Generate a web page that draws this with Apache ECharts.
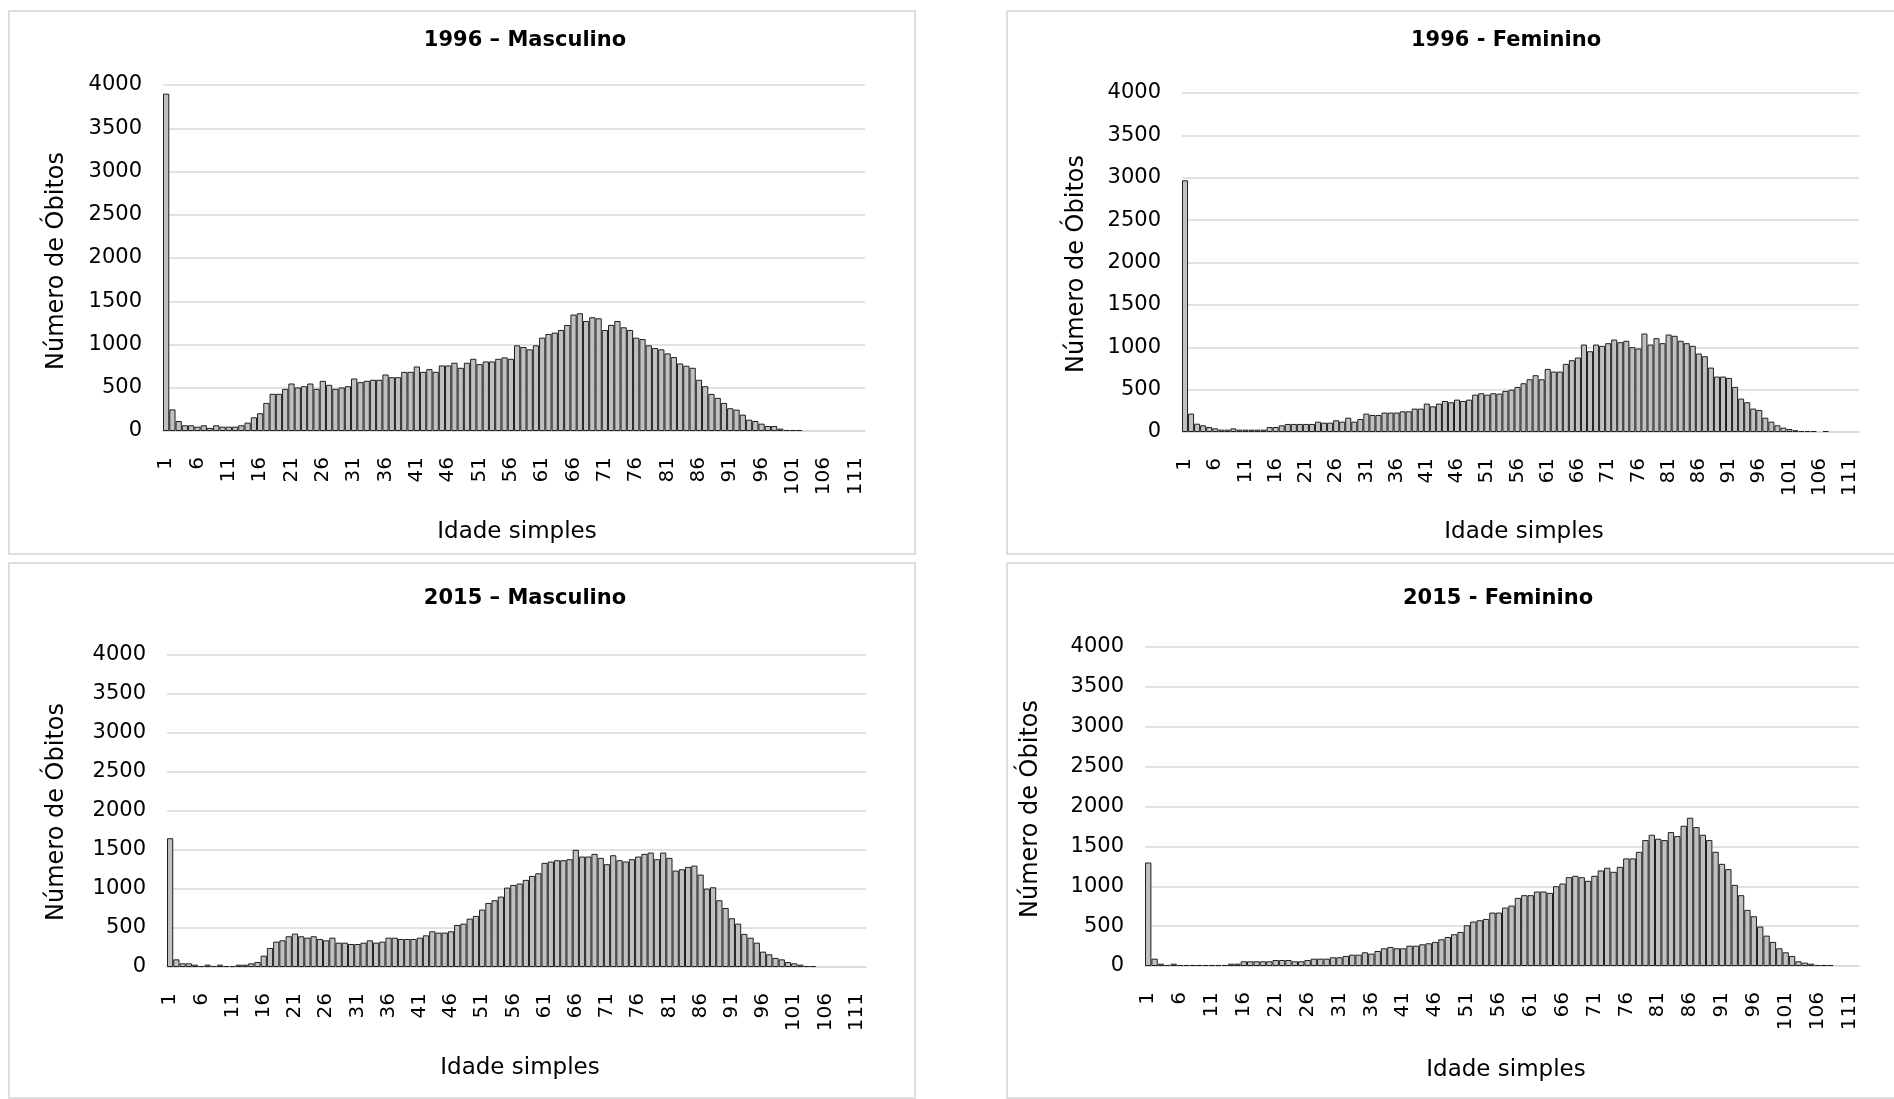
<!DOCTYPE html>
<html><head><meta charset="utf-8">
<script src="https://cdn.jsdelivr.net/npm/echarts@6/dist/echarts.min.js"></script>
<style>html,body{margin:0;padding:0;background:#fff}#c{width:1894px;height:1099px}</style>
</head><body><div id="c"></div>
<script>
// Categories: ages 1..112
const ages = ['1','2','3','4','5','6','7','8','9','10','11','12','13','14','15','16','17','18','19','20',
'21','22','23','24','25','26','27','28','29','30','31','32','33','34','35','36','37','38','39','40',
'41','42','43','44','45','46','47','48','49','50','51','52','53','54','55','56','57','58','59','60',
'61','62','63','64','65','66','67','68','69','70','71','72','73','74','75','76','77','78','79','80',
'81','82','83','84','85','86','87','88','89','90','91','92','93','94','95','96','97','98','99','100',
'101','102','103','104','105','106','107','108','109','110','111','112'];

const yTicks = [0, 500, 1000, 1500, 2000, 2500, 3000, 3500, 4000];

const titles = ['1996 \u2013 Masculino', '1996 - Feminino', '2015 \u2013 Masculino', '2015 - Feminino'];

const masc1996 = [3900,250,115,66,66,50,66,35,66,50,
 50,50,66,97,158,205,325,430,430,487,
 549,503,518,549,487,580,534,487,503,518,
 607,565,580,592,592,653,622,622,684,684,
 746,684,715,684,758,758,789,731,789,835,
 773,804,804,835,851,835,990,971,944,990,
 1079,1121,1137,1168,1226,1346,1361,1272,1315,1303,
 1168,1226,1272,1199,1168,1079,1063,990,959,944,
 897,855,781,754,731,592,518,429,383,325,
 263,247,189,131,116,85,58,58,27,12,
 12,12,0,0,0,0,0,0,0,0,
 0,0];

const fem1996 = [2970,217,98,79,59,43,28,28,43,28,
 28,28,28,28,59,59,79,95,95,95,
 95,95,122,110,110,138,122,169,122,154,
 217,201,201,229,229,229,244,244,276,276,
 335,303,335,366,351,382,366,382,441,457,
 441,457,453,485,500,532,575,622,670,622,
 745,713,713,804,847,879,1032,953,1032,1017,
 1048,1091,1060,1076,1001,985,1162,1032,1107,1048,
 1150,1135,1076,1048,1017,926,894,760,654,654,
 638,532,394,351,276,260,169,122,79,51,
 35,20,12,12,12,0,12,0,0,0,
 0,0];

const masc2015 = [1651,98,47,47,30,13,30,13,30,13,
 13,30,30,47,64,145,244,325,342,394,
 428,394,376,394,359,342,376,312,312,295,
 295,312,342,312,325,376,376,359,359,359,
 376,406,458,441,441,458,539,556,620,655,
 736,821,856,903,1018,1052,1070,1117,1168,1202,
 1335,1352,1369,1369,1382,1502,1416,1416,1450,1399,
 1318,1433,1369,1352,1382,1416,1450,1467,1382,1467,
 1399,1236,1253,1283,1300,1185,1005,1022,856,757,
 625,556,424,376,312,197,163,116,98,64,
 47,30,13,13,0,0,0,0,0,0,
 0,0];

const fem2015 = [1298,92,29,13,29,13,13,13,13,13,
 13,13,13,29,29,59,59,59,59,59,
 75,75,75,59,59,75,92,92,92,109,
 109,126,142,142,172,155,188,222,239,222,
 222,255,255,272,285,302,335,364,398,427,
 511,557,574,590,670,670,733,758,854,888,
 888,934,934,917,1001,1034,1114,1131,1114,1068,
 1131,1198,1231,1181,1244,1349,1349,1432,1579,1646,
 1596,1579,1679,1629,1759,1859,1742,1646,1579,1432,
 1281,1215,1018,888,704,624,494,381,302,222,
 172,126,59,42,29,13,13,13,0,0,
 0,0];

const seriesData = [masc1996, fem1996, masc2015, fem2015];

// Layout (pixels)
const panels = [
  {box:[9,11,906,543],   grid:{left:163,top:85,width:702,height:346}, title:[525,41],  yName:[57,261],  xName:[517,532]},
  {box:[1007,11,900,543],grid:{left:1182,top:93,width:677,height:339}, title:[1506,41], yName:[1077,264],xName:[1524,532]},
  {box:[9,563,906,535],  grid:{left:167,top:655,width:699,height:312}, title:[525,599], yName:[57,812],  xName:[520,1068]},
  {box:[1007,563,900,535],grid:{left:1145,top:647,width:714,height:319},title:[1498,599],yName:[1031,809],xName:[1506,1070]}
];

const FONT = '"DejaVu Sans", Verdana, sans-serif';
const grids = [], xAxes = [], yAxes = [], series = [], graphic = [];
panels.forEach((p, i) => {
  grids.push(Object.assign({containLabel:false}, p.grid));
  xAxes.push({
    type:'category', gridIndex:i, data:ages, boundaryGap:true,
    axisLine:{show:true, lineStyle:{color:'#d9d9d9', width:1.5}},
    axisTick:{show:false},
    axisLabel:{interval:4, rotate:90, margin:26, color:'#000', fontSize:20, fontFamily:FONT},
    splitLine:{show:false}
  });
  yAxes.push({
    type:'value', gridIndex:i, min:yTicks[0], max:yTicks[yTicks.length-1], interval:500,
    axisLine:{show:false}, axisTick:{show:false},
    axisLabel:{margin:21, color:'#000', fontSize:21, fontFamily:FONT, formatter: v => String(v)},
    splitLine:{show:true, lineStyle:{color:'#d9d9d9', width:1.5}}
  });
  series.push({
    type:'bar', xAxisIndex:i, yAxisIndex:i,
    data: seriesData[i].map(v => v === 0 ? '-' : v),
    barCategoryGap:'0%',
    itemStyle:{color:'#c0c0c0', borderColor:'#1f1f1f', borderWidth:1},
    silent:true, animation:false
  });
  graphic.push({type:'rect', shape:{x:p.box[0], y:p.box[1], width:p.box[2], height:p.box[3]},
    style:{fill:'none', stroke:'#d4d4d4', lineWidth:1.5}, silent:true, z:-1});
  graphic.push({type:'text', x:p.title[0], y:p.title[1],
    style:{text:titles[i], font:'bold 21px ' + FONT, fill:'#000', align:'center', verticalAlign:'middle'}});
  graphic.push({type:'text', x:p.yName[0], y:p.yName[1], rotation:Math.PI/2,
    style:{text:'N\u00famero de \u00d3bitos', font:'24px ' + FONT, fill:'#000', align:'center', verticalAlign:'middle'}});
  graphic.push({type:'text', x:p.xName[0], y:p.xName[1],
    style:{text:'Idade simples', font:'23px ' + FONT, fill:'#000', align:'center', verticalAlign:'middle'}});
});

const chart = echarts.init(document.getElementById('c'), null, {renderer:'canvas'});
chart.setOption({
  backgroundColor:'#fff',
  animation:false,
  grid:grids, xAxis:xAxes, yAxis:yAxes, series:series, graphic:graphic
});
</script></body></html>
